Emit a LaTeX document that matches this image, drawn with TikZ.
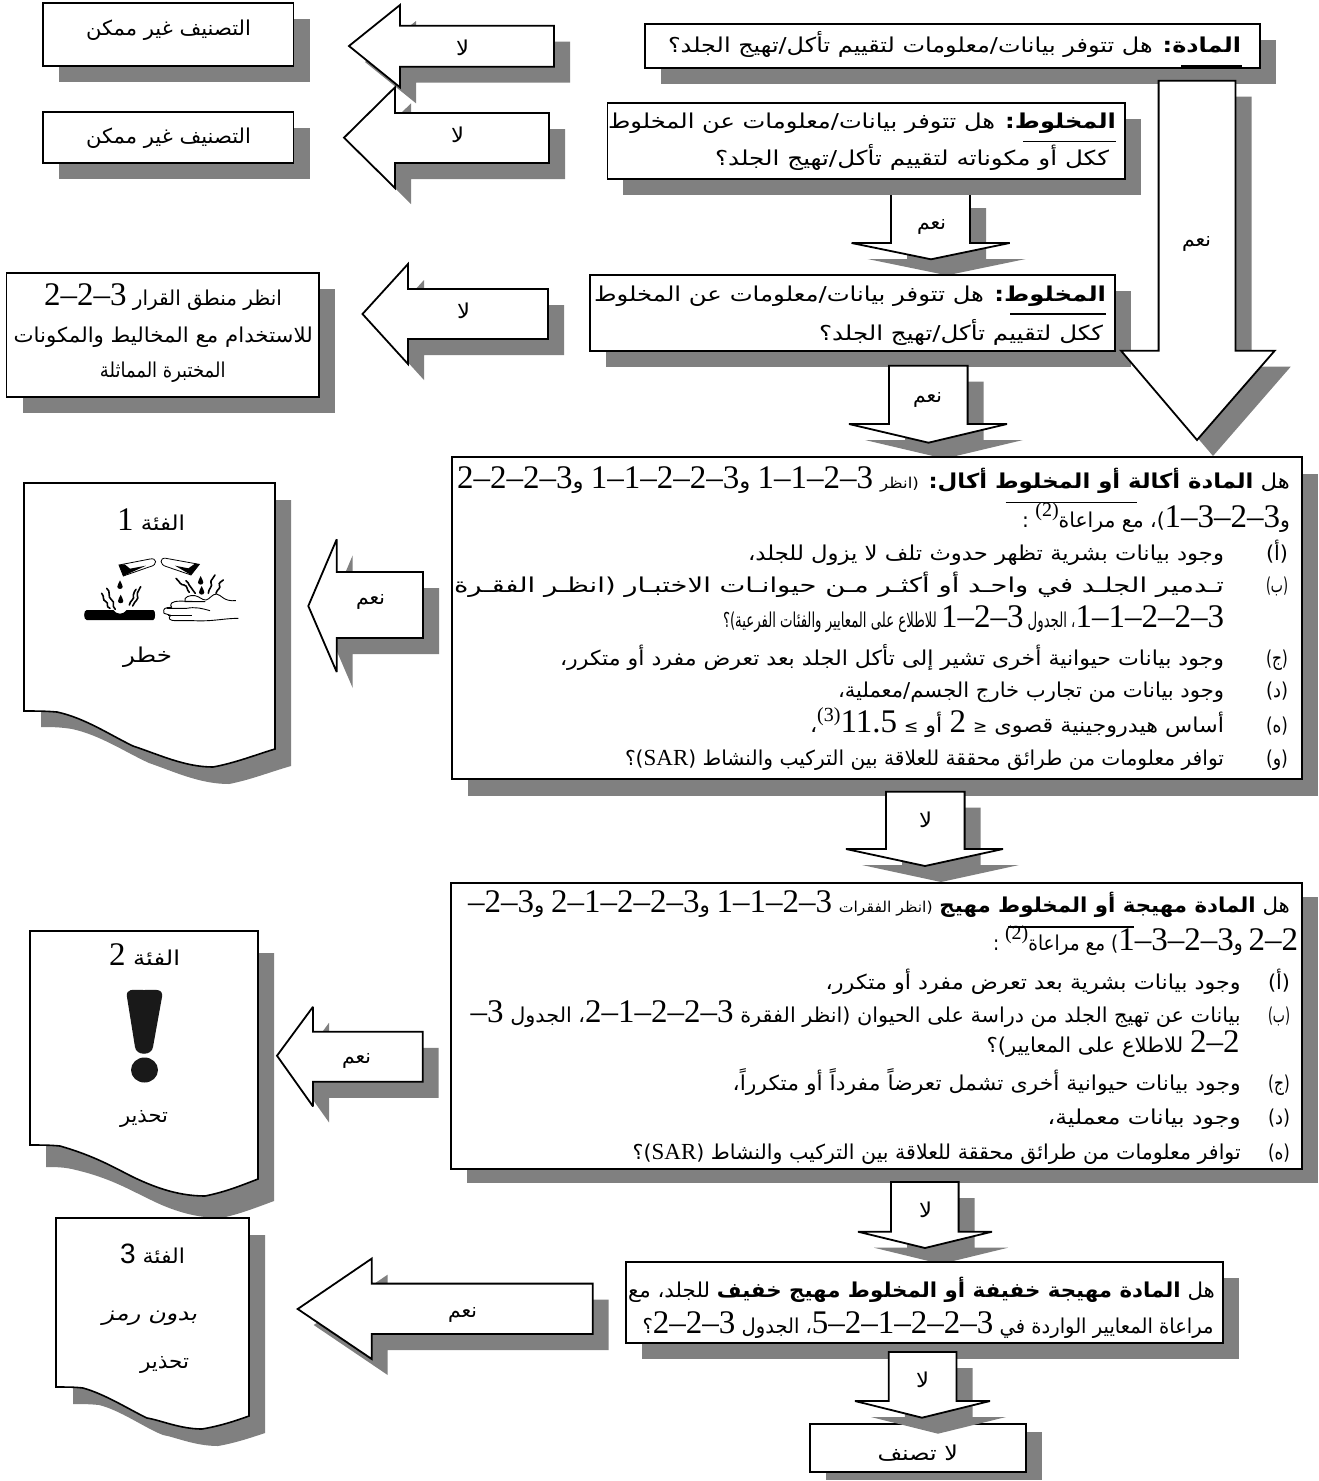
\documentclass[tikz,border=0pt]{standalone}
\usepackage{fontspec}
\usepackage{graphicx}
\TeXXeTstate=1
\newfontfamily\arfont[Script=Arabic]{DejaVu Sans}
\newfontfamily\arslant[Script=Arabic,FakeSlant=0.25,FakeStretch=1.18]{DejaVu Sans}
\newfontfamily\dgfont{Liberation Serif}
\newfontfamily\dgsans{Liberation Sans}
\newfontfamily\symfont{DejaVu Sans}
\definecolor{shadowc}{HTML}{808080}
\newcommand\fs[1]{\fontsize{#1}{#1}\selectfont}
\newif\ifdgnull
\newdimen\lenT \newdimen\lenA
\newbox\boxT \newbox\boxA
\newcommand\lat[1]{\ifdgnull\else\hbox{#1}\fi}
\newcommand\dg[1]{\lat{\dgfont\fs{33}#1}}
\newcommand\ssc[1]{\ifdgnull\else\raisebox{11pt}{\lat{\dgfont\fs{20}(#1)}}\fi}
\newcounter{tl}
\newcommand\arsize{\fs{20.5}}
% width, content: the digits keep their shape, the Arabic is stretched to fill the width
\newcommand\fitline[2]{%
 \dgnullfalse\setbox\boxT=\hbox{\arfont\arsize #2}\lenT=\wd\boxT
 \dgnulltrue\setbox\boxA=\hbox{\arfont\arsize #2}\lenA=\wd\boxA \dgnullfalse
 \ifdim\lenA<1pt \lenA=1pt\fi
 \pgfmathsetmacro\fa{max(0.4,(#1-(\the\lenT-\the\lenA))/\the\lenA)}%
 \edef\stretchcmd{\noexpand\addfontfeature{FakeStretch=\fa}}%
 \hbox{\arfont\stretchcmd\arsize #2}}
% right x, baseline y, width, content
\newcommand\rl[4]{\stepcounter{tl}\node[txt] (t\arabic{tl}) at (#1,#2) {\fitline{#3}{#4}};}
% name, x0, y0, x1, y1, shadow dx, dy
\newcommand\bx[7]{\fill[shadowc] ({#2+#6},{#3+#7}) rectangle ({#4+#6},{#5+#7});
 \node[boxst,minimum width={(#4-#2)*1pt},minimum height={(#5-#3)*1pt}] (#1) at ({(#2+#4)/2},{(#3+#5)/2}) {};}
% down arrow: sl sr top shoulder hl hr tipx tipy
\newcommand\darrow[8]{\fill[shadowc,shift={(16,16)}] (#1,#3)--(#2,#3)--(#2,#4)--(#6,#4)--(#7,#8)--(#5,#4)--(#1,#4)--cycle;
 \draw[arrowst] (#1,#3)--(#2,#3)--(#2,#4)--(#6,#4)--(#7,#8)--(#5,#4)--(#1,#4)--cycle;}
% left arrow: tipx tipy headx headtop headbot shafttop shaftbot right
\newcommand\larrow[8]{\fill[shadowc,shift={(16,16)}] (#1,#2)--(#3,#4)--(#3,#6)--(#8,#6)--(#8,#7)--(#3,#7)--(#3,#5)--cycle;
 \draw[arrowst] (#1,#2)--(#3,#4)--(#3,#6)--(#8,#6)--(#8,#7)--(#3,#7)--(#3,#5)--cycle;}
\newcommand\drp[2]{\fill (#1,#2-14) .. controls (#1+3,#2-6) and (#1+8,#2) .. (#1+8,#2+5) .. controls (#1+8,#2+14) and (#1-8,#2+14) .. (#1-8,#2+5) .. controls (#1-8,#2) and (#1-3,#2-6) .. (#1,#2-14);}
\tikzset{
 txt/.style={anchor=base east,inner sep=0pt,outer sep=0pt},
 boxst/.style={draw=black,fill=white,line width=1.8pt,inner sep=0pt,outer sep=0pt},
 arrowst/.style={draw=black,fill=white,line width=1.8pt,line join=miter,miter limit=3},
 rulest/.style={draw=black,line width=1.5pt},
 docst/.style={draw=black,fill=white,line width=1.6pt},
 wig/.style={draw=black,line width=1.3pt,line cap=round}
}
\begin{document}
\begin{tikzpicture}[x=1pt,y=-1pt]
\useasboundingbox (0,0) rectangle (1318,1481);
\fill[white] (0,0) rectangle (1318,1481);

% --- documents
\fill[shadowc] (41,500) -- (291,500) -- (291,766) .. controls (270,772) and (250,780) .. (229,784) .. controls (200,784) and (175,772) .. (149,763) .. controls (125,752) and (100,735) .. (72,729) .. controls (60,727) and (50,727) .. (41,727) -- cycle;
\draw[docst] (24,483) -- (275,483) -- (275,749) .. controls (255,755) and (235,763) .. (213,767) .. controls (185,767) and (160,755) .. (133,746) .. controls (110,735) and (85,718) .. (57,712) .. controls (45,711) and (35,711) .. (24,711) -- cycle;
\fill[shadowc] (46,953) -- (274,953) -- (274,1201) .. controls (255,1208) and (240,1214) .. (221,1218) .. controls (190,1218) and (165,1207) .. (149,1199) .. controls (130,1190) and (110,1178) .. (76,1170) .. controls (65,1167) and (55,1167) .. (46,1167) -- cycle;
\draw[docst] (30,931) -- (258,931) -- (258,1179) .. controls (240,1186) and (225,1192) .. (205,1196) .. controls (175,1196) and (150,1185) .. (133,1177) .. controls (115,1168) and (95,1156) .. (60,1146) .. controls (50,1145) and (40,1145) .. (30,1145) -- cycle;
\fill[shadowc] (73,1235) -- (265,1235) -- (265,1433) .. controls (250,1438) and (235,1443) .. (218,1446) .. controls (195,1446) and (175,1437) .. (163,1435) .. controls (145,1428) and (120,1410) .. (99,1405) .. controls (90,1404) and (80,1404) .. (73,1404) -- cycle;
\draw[docst] (56,1218) -- (249,1218) -- (249,1416) .. controls (235,1421) and (220,1426) .. (202,1429) .. controls (180,1429) and (160,1420) .. (147,1418) .. controls (130,1410) and (105,1394) .. (83,1388) .. controls (75,1387) and (65,1387) .. (56,1387) -- cycle;

% --- corrosive pictogram
\begin{scope}[shift={(80,550)},x=0.3333pt,y=-0.3333pt]
\draw[line width=0.8pt] (117,45) -- (210,27) .. controls (230,22) and (235,45) .. (210,50) -- (130,78) -- cycle;
\fill (117,45) -- (134,43) -- (150,56) -- (198,47) -- (130,78) -- cycle;
\draw[line width=0.8pt] (358,43) -- (258,25) .. controls (238,22) and (238,45) .. (260,50) -- (333,75) -- cycle;
\fill (358,43) -- (345,41) -- (325,55) -- (285,47) -- (333,75) -- cycle;
\drp{120}{105}\drp{122}{148}\drp{362}{92}\drp{365}{122}
\fill (20,180) -- (100,180) .. controls (110,195) and (130,195) .. (140,180) -- (220,180) .. controls (227,180) and (227,210) .. (220,210) -- (20,210) .. controls (10,210) and (10,180) .. (20,180) -- cycle;
\draw[wig,line width=1.6pt] (65,130) .. controls (75,140) and (65,150) .. (78,155) .. controls (88,160) and (75,170) .. (90,175);
\draw[wig,line width=1.6pt] (80,115) .. controls (95,125) and (80,140) .. (95,150) .. controls (108,158) and (92,165) .. (106,178);
\draw[wig,line width=1.6pt] (148,165) .. controls (150,150) and (165,150) .. (160,135) .. controls (158,125) and (168,125) .. (168,118);
\draw[wig,line width=1.6pt] (158,168) .. controls (165,150) and (178,150) .. (172,135) .. controls (170,125) and (180,120) .. (182,110);
\draw[wig,line width=1.6pt] (288,85) .. controls (300,95) and (300,105) .. (312,105) .. controls (325,108) and (318,118) .. (328,127);
\draw[wig,line width=1.6pt] (318,92) .. controls (330,100) and (325,110) .. (335,115) .. controls (342,120) and (338,125) .. (346,130);
\draw[wig,line width=1.6pt] (385,130) .. controls (385,115) and (400,110) .. (393,98) .. controls (390,90) and (402,85) .. (405,75);
\draw[wig,line width=1.6pt] (408,130) .. controls (410,118) and (425,115) .. (418,105) .. controls (415,98) and (425,95) .. (430,90);
\draw[line width=0.9pt,line join=round] (475,205) .. controls (430,205) and (400,215) .. (340,212) -- (285,212) .. controls (270,212) and (262,205) .. (272,196) -- (252,190) .. controls (248,175) and (255,172) .. (275,172) -- (272,165) .. controls (272,155) and (290,152) .. (318,154) -- (375,155) -- (315,155) .. controls (310,140) and (330,135) .. (345,137) .. controls (360,140) and (365,150) .. (378,150) .. controls (390,148) and (395,132) .. (410,132) .. controls (425,135) and (430,155) .. (468,152);
\draw[line width=0.9pt] (260,175) -- (320,175) .. controls (345,170) and (365,175) .. (390,182);
\draw[line width=0.9pt] (265,195) -- (335,195);
\end{scope}

% --- exclamation
\fill[black!90] (127,997) .. controls (126,988) and (132,990) .. (144,990) .. controls (156,990) and (163,988) .. (162,997) -- (153,1047) .. controls (152,1056) and (136,1056) .. (135,1047) -- cycle;
\fill[black!90] (144.5,1070) ellipse [x radius=13.5pt,y radius=12.5pt];

% --- top-left result boxes
\bx{tla}{43}{3}{293.5}{65.7}{16}{16}
\bx{tlb}{43}{111.7}{293.5}{163.3}{16}{16}
\bx{tlc}{6.5}{272.7}{319}{396.7}{16}{16}

% --- arrows to the left
\larrow{349}{46}{400}{5}{87.3}{25.7}{66.7}{554}
\larrow{344}{137.7}{395}{87.3}{188}{113}{163}{549}
\larrow{362.5}{314}{408}{264}{364}{289}{339}{548}
\larrow{308.3}{606}{336.7}{539.3}{672}{572}{638}{423}
\larrow{277}{1055.7}{313}{1006.8}{1106.4}{1031.8}{1081.8}{422.7}
\larrow{297.7}{1309}{371.7}{1258.6}{1359}{1283.6}{1334}{592.7}

% --- main column
\bx{bxa}{644.6}{24}{1260}{68}{16}{16}
\darrow{891}{970}{192}{243}{851.6}{1009.7}{931}{259.3}
\bx{bxb}{607.4}{102.7}{1124.8}{179.3}{16}{16}
\bx{bxc}{590}{275}{1114.6}{351}{16}{16}
\darrow{1158.6}{1235.5}{80.7}{350.7}{1121}{1274.7}{1197}{440}
\darrow{889}{967.6}{365.7}{424}{849}{1007}{928.5}{442.7}
\bx{bxd}{452}{457}{1302}{779}{16}{17}
\darrow{886}{964.6}{791.7}{849}{846}{1003}{925}{866}
\bx{bxe}{451}{882.7}{1302}{1169}{16}{14}
\darrow{891}{958.6}{1182}{1231.7}{858}{992}{925}{1248}
\bx{bxf}{626}{1261.7}{1222.7}{1342.7}{16}{16}
\bx{bxg}{810}{1424}{1026}{1471.7}{16}{8.3}
\darrow{888.8}{956.5}{1352}{1401}{855}{990}{922}{1417.7}

% --- thin rules crossing the text
\draw[rulest] (1181,66) -- (1242,66);
\draw[rulest] (1023,141.7) -- (1116,141.7);
\draw[rulest] (1010,314) -- (1106,314);
\draw[rulest] (1005.5,502.7) -- (1137,502.7);
\draw[rulest] (1008,927) -- (1134,927);

% --- texts: result boxes
\rl{251}{35}{165}{\beginR التصنيف غير ممكن\endR}
\rl{251}{143.7}{165}{\beginR التصنيف غير ممكن\endR}
\rl{282}{305}{238}{\beginR انظر منطق القرار \dg{2–2–3}\endR}
\rl{312.7}{342}{299}{\beginR للاستخدام مع المخاليط والمكونات\endR}
\rl{225.5}{377}{125.5}{\beginR المختبرة المماثلة\endR}

% --- arrow labels
\rl{469}{55}{13}{\beginR لا\endR}
\rl{464}{142}{13}{\beginR لا\endR}
\rl{470}{318}{13}{\beginR لا\endR}
\rl{946}{229}{29}{\beginR نعم\endR}
\rl{1211}{246}{29}{\beginR نعم\endR}
\rl{942}{402}{29}{\beginR نعم\endR}
\rl{385}{604}{29}{\beginR نعم\endR}
\rl{371}{1063}{29}{\beginR نعم\endR}
\rl{477}{1317}{29}{\beginR نعم\endR}
\rl{932}{827}{13}{\beginR لا\endR}
\rl{932}{1217}{13}{\beginR لا\endR}
\rl{929}{1387}{13}{\beginR لا\endR}

% --- top questions
\rl{1241}{52}{573}{\beginR{\bfseries المادة:} هل تتوفر بيانات/معلومات لتقييم تأكل/تهيج الجلد؟\endR}
\rl{1116}{128}{508}{\beginR{\bfseries المخلوط:} هل تتوفر بيانات/معلومات عن المخلوط\endR}
\rl{1109}{165}{394}{\beginR ككل أو مكوناته لتقييم تأكل/تهيج الجلد؟\endR}
\rl{1106}{301}{512}{\beginR{\bfseries المخلوط:} هل تتوفر بيانات/معلومات عن المخلوط\endR}
\rl{1103}{340}{284}{\beginR ككل لتقييم تأكل/تهيج الجلد؟\endR}

% --- corrosive box
\rl{1290}{488}{833}{\beginR هل {\bfseries المادة أكالة أو المخلوط أكال:} {\fs{15}(انظر} \dg{1–1–2–3} و\dg{1–1–2–2–3} و\dg{2–2–2–3}\endR}
\rl{1290}{527}{268}{\beginR و\dg{1–3–2–3})، مع مراعاة\ssc{2} :\endR}
\rl{1288}{560}{22}{\beginR(أ)\endR}
\rl{1224}{560}{476}{\beginR وجود بيانات بشرية تظهر حدوث تلف لا يزول للجلد،\endR}
\rl{1288}{592}{22}{\beginR(ب)\endR}
\rl{1224}{592}{770}{\beginR تـدمير الجلـد في واحـد أو أكثـر مـن حيوانـات الاختبـار (انظـر الفقـرة\endR}
\rl{1224}{627}{501}{\beginR\dg{1–1–2–2–3}، الجدول \dg{1–2–3} للاطلاع على المعايير والفئات الفرعية)؟\endR}
\rl{1288}{665}{22}{\beginR(ج)\endR}
\rl{1224}{665}{664}{\beginR وجود بيانات حيوانية أخرى تشير إلى تأكل الجلد بعد تعرض مفرد أو متكرر،\endR}
\rl{1288}{697}{22}{\beginR(د)\endR}
\rl{1224}{697}{386}{\beginR وجود بيانات من تجارب خارج الجسم/معملية،\endR}
\rl{1288}{732}{22}{\beginR(ه)\endR}
\rl{1224}{732}{414}{\beginR أساس هيدروجينية قصوى \lat{\symfont\fs{17}≥} \dg{2} أو \lat{\symfont\fs{17}≤} \dg{11.5}\ssc{3}،\endR}
\rl{1288}{765}{22}{\beginR(و)\endR}
\rl{1224}{765}{599}{\beginR توافر معلومات من طرائق محققة للعلاقة بين التركيب والنشاط (\lat{\dgfont\fs{23}SAR})؟\endR}

% --- irritant box
\rl{1290}{912}{822}{\beginR هل {\bfseries المادة مهيجة أو المخلوط مهيج} {\fs{15}(انظر الفقرات} \dg{1–1–2–3} و\dg{2–1–2–2–3} و\dg{–2–3}\endR}
\rl{1298}{950}{305}{\beginR\dg{2–2} و\dg{1–3–2–3}) مع مراعاة\ssc{2} :\endR}
\rl{1290}{989}{22}{\beginR(أ)\endR}
\rl{1240.7}{989}{415}{\beginR وجود بيانات بشرية بعد تعرض مفرد أو متكرر،\endR}
\rl{1290}{1022}{22}{\beginR(ب)\endR}
\rl{1240.7}{1022}{770}{\beginR بيانات عن تهيج الجلد من دراسة على الحيوان (انظر الفقرة \dg{2–1–2–2–3}، الجدول \dg{–3}\endR}
\rl{1239.5}{1052}{253}{\beginR\dg{2–2} للاطلاع على المعايير)؟\endR}
\rl{1290}{1090}{22}{\beginR(ج)\endR}
\rl{1240.7}{1090}{508}{\beginR وجود بيانات حيوانية أخرى تشمل تعرضاً مفرداً أو متكرراً،\endR}
\rl{1290}{1124}{22}{\beginR(د)\endR}
\rl{1240.7}{1124}{193}{\beginR وجود بيانات معملية،\endR}
\rl{1290}{1159}{22}{\beginR(ه)\endR}
\rl{1240.7}{1159}{608}{\beginR توافر معلومات من طرائق محققة للعلاقة بين التركيب والنشاط (\lat{\dgfont\fs{23}SAR})؟\endR}

% --- mild box
\rl{1215}{1297}{587}{\beginR هل {\bfseries المادة مهيجة خفيفة أو المخلوط مهيج خفيف} للجلد، مع\endR}
\rl{1213.6}{1333}{571}{\beginR مراعاة المعايير الواردة في \dg{5–2–1–2–2–3}، الجدول \dg{2–2–3}؟\endR}
\rl{958}{1460}{80.5}{\beginR لا تصنف\endR}

% --- documents' text
\rl{185}{530}{68}{\beginR الفئة \dg{1}\endR}
\rl{172}{662}{49}{\beginR خطر\endR}
\rl{180}{965}{71}{\beginR الفئة \dg{2}\endR}
\rl{168}{1122}{48}{\beginR تحذير\endR}
\rl{185}{1263}{65}{\beginR الفئة \lat{\dgsans\fs{28}3}\endR}
\rl{197}{1320}{89}{\beginR{\arslant بدون رمز}\endR}
\rl{189}{1368}{49}{\beginR تحذير\endR}
\end{tikzpicture}
\end{document}
